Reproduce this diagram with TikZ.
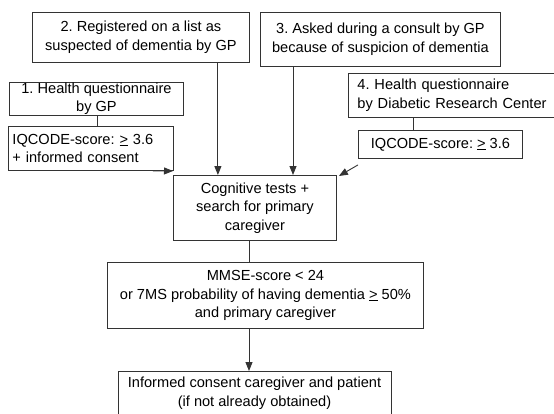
\documentclass[tikz,border=0pt]{standalone}
\usepackage{fontspec}
\setmainfont{Liberation Sans}
\frenchspacing
\usetikzlibrary{arrows.meta,calc}
\begin{document}
\begin{tikzpicture}[x=1pt,y=-1pt,
  box/.style={draw=black!80, line width=0.9pt, anchor=north west, inner sep=0pt,
    font=\fontsize{14.6pt}{18.5pt}\selectfont, align=center},
  arr/.style={draw=black!80, line width=0.9pt, -{Triangle[length=9pt,width=7pt]}},
  ln/.style={draw=black!80, line width=0.9pt}]
\useasboundingbox (0,0) rectangle (554,413);
\clip (0,0) rectangle (554,413);
\fill[white] (0,0) rectangle (554,413);
% boxes
\node[box, minimum width=217pt, minimum height=50pt] (b2) at (32,12)
  {2. Registered on a list as\\suspected of dementia by GP};
\node[box, minimum width=240pt, minimum height=54pt] (b3) at (260,12)
  {3. Asked during a consult by GP\\because of suspicion of dementia};
\node[box, minimum width=174pt, minimum height=33pt] (b1) at (9,82)
  {1. Health questionnaire\\by GP};
\node[box, minimum width=165pt, minimum height=44pt, align=left, text width=157pt] (iq1) at (8,126)
  {IQCODE-score: \underline{>} 3.6\\+ informed consent};
\node[box, minimum width=210pt, minimum height=44pt, align=left, text width=192pt] (b4) at (348,73)
  {4. Health questionnaire\\by Diabetic Research Center};
\node[box, minimum width=164pt, minimum height=28pt] (iq2) at (358,130)
  {IQCODE-score: \underline{>} 3.6};
\node[box, minimum width=163pt, minimum height=65pt] (cog) at (173,175)
  {Cognitive tests +\\search for primary\\caregiver};
\node[box, minimum width=316pt, minimum height=66pt] (mmse) at (107,262)
  {MMSE-score < 24\\or 7MS probability of having dementia \underline{>} 50\%\\and primary caregiver};
\node[box, minimum width=273pt, minimum height=60pt, anchor=north west] (info) at (118,371) {};
\node[font=\fontsize{14.6pt}{18.5pt}\selectfont, align=center, anchor=north, inner sep=0pt] (infot) at (254.5,377)
  {Informed consent caregiver and patient\\(if not already obtained)};
% connectors
\draw[ln] ([xshift=88pt]b1.south west) -- ([xshift=88pt]b1.south west |- iq1.north);
\draw[ln] ([xshift=65pt]b4.south west) -- ([xshift=65pt]b4.south west |- iq2.north);
\draw[arr] ([xshift=-32pt]b2.south east) -- ([xshift=-32pt]b2.south east |- cog.north);
\draw[arr] ([xshift=33pt]b3.south west) -- ([xshift=33pt]b3.south west |- cog.north);
\draw[arr] ([xshift=-21pt]iq1.south east) -- ([yshift=4pt]cog.north west);
\draw[arr] ([yshift=-6pt]iq2.south west) -- ([xshift=2pt,yshift=-1pt]cog.north east);
\draw[ln] ([xshift=76pt]cog.south west) -- ([xshift=76pt]cog.south west |- mmse.north);
\draw[arr] ([xshift=142pt]mmse.south west) -- ([xshift=142pt]mmse.south west |- info.north);
\end{tikzpicture}
\end{document}
